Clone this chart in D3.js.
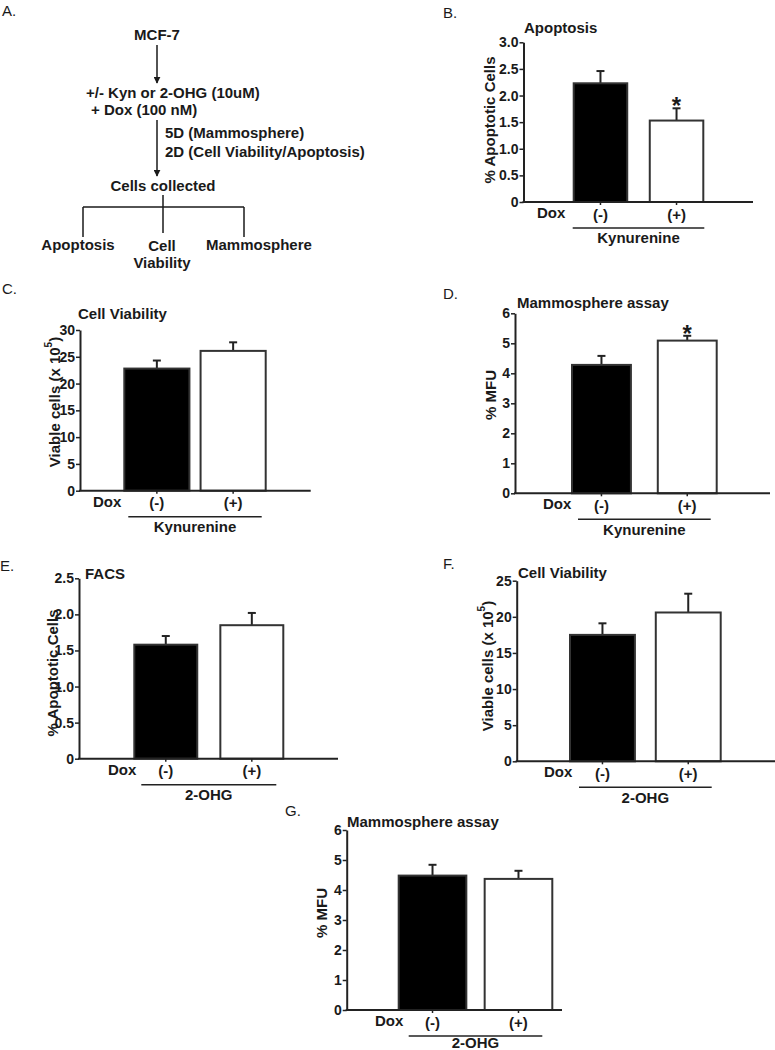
<!DOCTYPE html>
<html>
<head>
<meta charset="utf-8">
<script src="https://cdn.jsdelivr.net/npm/d3@7"></script>
<style>
  body { margin: 0; background: #fff; }
  text { font-family: 'Liberation Sans', Arial, sans-serif; fill: #1a1a1a; }
</style>
</head>
<body>
<div id="chart"></div>
<script>
// groups on the x axis of every bar panel
const groups = ['(-)', '(+)'];

// B. Kynurenine - apoptosis
const kynApoptosis = [2.23, 1.53];
const kynApoptosisErr = [0.23, 0.23];
// C. Kynurenine - cell viability (x 10^5)
const kynViability = [22.8, 26.1];
const kynViabilityErr = [1.5, 1.6];
// D. Kynurenine - mammosphere
const kynMfu = [4.28, 5.09];
const kynMfuErr = [0.30, 0.16];
// E. 2-OHG - FACS
const ohgApoptosis = [1.58, 1.85];
const ohgApoptosisErr = [0.12, 0.17];
// F. 2-OHG - cell viability
const ohgViability = [17.5, 20.6];
const ohgViabilityErr = [1.6, 2.6];
// G. 2-OHG - mammosphere
const ohgMfu = [4.48, 4.37];
const ohgMfuErr = [0.36, 0.27];

// tick labels
const apoptosisTicksB = [0, 0.5, 1.0, 1.5, 2.0, 2.5, 3.0];
const apoptosisTicksE = [0, 0.5, 1.0, 1.5, 2.0, 2.5];
const viabilityTicksC = [0, 5, 10, 15, 20, 25, 30];
const viabilityTicksF = [0, 5, 10, 15, 20, 25];
const mfuTicks = [0, 1, 2, 3, 4, 5, 6];

const fmtDec = d => d === 0 ? '0' : d3.format('.1f')(d);
const fmtInt = d3.format('d');

const width = 775, height = 1050;
const svg = d3.select('#chart').append('svg')
  .attr('width', width)
  .attr('height', height);

// ---------- A. flow chart ----------
const defs = svg.append('defs');
defs.append('marker')
  .attr('id', 'arrow')
  .attr('viewBox', '0 0 10 10')
  .attr('refX', 9).attr('refY', 5)
  .attr('markerWidth', 7).attr('markerHeight', 7)
  .attr('markerUnits', 'userSpaceOnUse')
  .attr('orient', 'auto')
  .append('path').attr('d', 'M0,0 L10,5 L0,10 Z').attr('fill', '#1a1a1a');

const flow = svg.append('g');
const flowText = (t, x, y, anchor) => flow.append('text')
  .attr('x', x).attr('y', y)
  .attr('text-anchor', anchor || 'start')
  .attr('font-size', 15).attr('font-weight', 'bold')
  .text(t);
const flowLine = (x1, y1, x2, y2, arrow) => {
  const l = flow.append('line')
    .attr('x1', x1).attr('y1', y1).attr('x2', x2).attr('y2', y2)
    .attr('stroke', '#1a1a1a').attr('stroke-width', 1.5);
  if (arrow) l.attr('marker-end', 'url(#arrow)');
};

svg.append('text').attr('x', 2).attr('y', 16).attr('font-size', 15).attr('fill', '#333').text('A.');
flowText('MCF-7', 157, 40, 'middle');
flowLine(157, 45, 157, 83, true);
flowText('+/- Kyn or 2-OHG (10uM)', 86, 98);
flowText('+ Dox (100 nM)', 91, 115);
flowLine(157, 120, 157, 176, true);
flowText('5D (Mammosphere)', 165, 138);
flowText('2D (Cell Viability/Apoptosis)', 165, 157);
flowText('Cells collected', 163, 191, 'middle');
flowLine(163, 195, 163, 233);
flowLine(83, 207, 244, 207);
flowLine(83, 207, 83, 237);
flowLine(244, 207, 244, 237);
flowText('Apoptosis', 78, 250, 'middle');
flowText('Cell', 162, 251, 'middle');
flowText('Viability', 162, 268, 'middle');
flowText('Mammosphere', 206, 250);

// ---------- bar panels ----------
const panels = [
  { letter: 'B.', title: 'Apoptosis', ylabel: '% Apoptotic Cells', treat: 'Kynurenine',
    values: kynApoptosis, errors: kynApoptosisErr, yMax: 3, ticks: apoptosisTicksB, fmt: fmtDec, stars: [false, true],
    L: { letterX: 443, letterY: 18, axisX: 523.5, top: 42.3, bottom: 202, xEnd: 753, barL: 572.7, barR: 704.3, pad: 0.27,
         doxX: 537, ulInset: 0, treatDy: 41, titleX: 524, titleY: 33, ylX: 489, ylY: 120 } },
  { letter: 'C.', title: 'Cell Viability', ylabel: 'viable', treat: 'Kynurenine',
    values: kynViability, errors: kynViabilityErr, yMax: 30, ticks: viabilityTicksC, fmt: fmtInt, stars: [false, false],
    L: { letterX: 2, letterY: 294, axisX: 80, top: 330, bottom: 490.7, xEnd: 310.7, barL: 123.3, barR: 266.7, pad: 0.12,
         doxX: 93, ulInset: 5, treatDy: 41, titleX: 78, titleY: 319, ylX: 54, ylY: 402 } },
  { letter: 'D.', title: 'Mammosphere assay', ylabel: '% MFU', treat: 'Kynurenine',
    values: kynMfu, errors: kynMfuErr, yMax: 6, ticks: mfuTicks, fmt: fmtInt, stars: [false, true],
    L: { letterX: 443, letterY: 299, axisX: 515, top: 313.3, bottom: 493.3, xEnd: 770, barL: 571, barR: 717.7, pad: 0.29,
         doxX: 543, ulInset: 7, treatDy: 42, titleX: 517, titleY: 308, ylX: 490, ylY: 395 } },
  { letter: 'E.', title: 'FACS', ylabel: '% Apoptotic Cells', treat: '2-OHG',
    values: ohgApoptosis, errors: ohgApoptosisErr, yMax: 2.5, ticks: apoptosisTicksE, fmt: fmtDec, stars: [false, false],
    L: { letterX: 0, letterY: 571, axisX: 79, top: 578.3, bottom: 758.7, xEnd: 338, barL: 133.3, barR: 284.3, pad: 0.245,
         doxX: 108, ulInset: 8, treatDy: 41, titleX: 85, titleY: 579, ylX: 52, ylY: 673 } },
  { letter: 'F.', title: 'Cell Viability', ylabel: 'viable', treat: '2-OHG',
    values: ohgViability, errors: ohgViabilityErr, yMax: 25, ticks: viabilityTicksF, fmt: fmtInt, stars: [false, false],
    L: { letterX: 443, letterY: 569, axisX: 516.7, top: 580.7, bottom: 761.3, xEnd: 775, barL: 569, barR: 721.7, pad: 0.22,
         doxX: 544, ulInset: 10, treatDy: 42, titleX: 518, titleY: 578, ylX: 487, ylY: 666 } },
  { letter: 'G.', title: 'Mammosphere assay', ylabel: '% MFU', treat: '2-OHG',
    values: ohgMfu, errors: ohgMfuErr, yMax: 6, ticks: mfuTicks, fmt: fmtInt, stars: [false, false],
    L: { letterX: 285, letterY: 816, axisX: 346.7, top: 830, bottom: 1010, xEnd: 562, barL: 397.7, barR: 553.3, pad: 0.19,
         doxX: 375, ulInset: 11, treatDy: 37.5, titleX: 347, titleY: 827, ylX: 321, ylY: 913 } },
];

function drawPanel(p) {
  const L = p.L;
  const g = svg.append('g');

  const y = d3.scaleLinear().domain([0, p.yMax]).range([L.bottom, L.top]);
  const x = d3.scaleBand().domain(groups).range([L.barL, L.barR]).paddingInner(p.L.pad).paddingOuter(0);
  const data = groups.map((k, i) => ({ k, v: p.values[i], e: p.errors[i], star: p.stars[i], i }));

  // error bars (upper half only)
  const eb = g.append('g').attr('stroke', '#222').attr('stroke-width', 2);
  eb.selectAll('.ev').data(data).enter().append('line')
    .attr('x1', d => x(d.k) + x.bandwidth() / 2).attr('x2', d => x(d.k) + x.bandwidth() / 2)
    .attr('y1', d => y(d.v)).attr('y2', d => y(d.v + d.e));
  eb.selectAll('.ec').data(data).enter().append('line')
    .attr('x1', d => x(d.k) + x.bandwidth() / 2 - 4).attr('x2', d => x(d.k) + x.bandwidth() / 2 + 4)
    .attr('y1', d => y(d.v + d.e)).attr('y2', d => y(d.v + d.e));

  // bars
  g.selectAll('.bar').data(data).enter().append('rect')
    .attr('x', d => x(d.k) + 1)
    .attr('y', d => y(d.v))
    .attr('width', x.bandwidth() - 2)
    .attr('height', d => L.bottom - y(d.v))
    .attr('fill', d => d.i === 0 ? '#000' : '#fff')
    .attr('stroke', '#333').attr('stroke-width', 2);

  // significance stars
  g.selectAll('.star').data(data.filter(d => d.star)).enter().append('text')
    .attr('x', d => x(d.k) + x.bandwidth() / 2)
    .attr('y', d => y(d.v + d.e) + 6)
    .attr('text-anchor', 'middle')
    .attr('font-size', 24).attr('font-weight', 'bold')
    .text('*');

  // y axis
  const ya = g.append('g').attr('transform', `translate(${L.axisX},0)`)
    .call(d3.axisLeft(y).tickValues(p.ticks).tickFormat(p.fmt).tickSize(4).tickSizeOuter(0).tickPadding(1));
  ya.select('.domain').attr('stroke', '#222').attr('stroke-width', 2);
  ya.selectAll('.tick line').attr('stroke', '#222').attr('stroke-width', 1.5);
  ya.selectAll('.tick text').attr('font-size', 14).attr('font-weight', 'bold')
    .attr('font-family', "'Liberation Sans', Arial, sans-serif").attr('fill', '#1a1a1a');

  // x axis baseline and group labels
  g.append('line')
    .attr('x1', L.axisX - 1).attr('x2', L.xEnd)
    .attr('y1', L.bottom).attr('y2', L.bottom)
    .attr('stroke', '#222').attr('stroke-width', 2);
  const xa = g.append('g').attr('transform', `translate(0,${L.bottom})`)
    .call(d3.axisBottom(x).tickSize(3).tickSizeOuter(0).tickPadding(4));
  xa.select('.domain').remove();
  xa.selectAll('.tick line').attr('stroke', '#222').attr('stroke-width', 1.5);
  xa.selectAll('.tick text').attr('font-size', 15).attr('font-weight', 'bold')
    .attr('font-family', "'Liberation Sans', Arial, sans-serif").attr('fill', '#1a1a1a');

  g.append('text').attr('x', L.doxX).attr('y', L.bottom + 16)
    .attr('font-size', 15).attr('font-weight', 'bold').text('Dox');

  g.append('line')
    .attr('x1', L.barL + L.ulInset).attr('x2', L.barR - L.ulInset)
    .attr('y1', L.bottom + 26).attr('y2', L.bottom + 26)
    .attr('stroke', '#222').attr('stroke-width', 1.5);
  g.append('text').attr('x', (L.barL + L.barR) / 2).attr('y', L.bottom + L.treatDy)
    .attr('text-anchor', 'middle')
    .attr('font-size', 15).attr('font-weight', 'bold').text(p.treat);

  // titles
  g.append('text').attr('x', L.titleX).attr('y', L.titleY)
    .attr('font-size', 15).attr('font-weight', 'bold').text(p.title);
  g.append('text').attr('x', L.letterX).attr('y', L.letterY)
    .attr('font-size', 15).attr('fill', '#333').text(p.letter);

  const yl = g.append('text')
    .attr('transform', `translate(${L.ylX},${L.ylY}) rotate(-90)`)
    .attr('text-anchor', 'middle').attr('dominant-baseline', 'central')
    .attr('font-size', 15).attr('font-weight', 'bold');
  if (p.ylabel === 'viable') {
    yl.append('tspan').text('Viable cells (x 10');
    yl.append('tspan').attr('dy', -6).attr('font-size', 10).text('5');
    yl.append('tspan').attr('dy', 6).text(')');
  } else {
    yl.text(p.ylabel);
  }
}

panels.forEach(drawPanel);
</script>
</body>
</html>
